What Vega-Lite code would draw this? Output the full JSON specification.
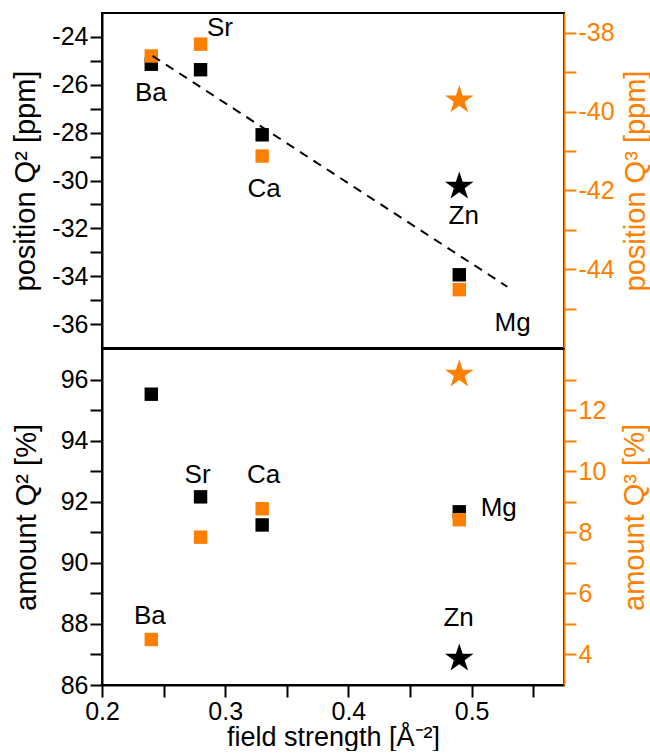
{
  "$schema": "https://vega.github.io/schema/vega-lite/v6.json",
  "padding": {"left": 10, "top": 12, "right": 0, "bottom": 0},
  "spacing": -2,
  "config": {
    "font": "Liberation Sans",
    "view": {"stroke": "black", "strokeWidth": 2},
    "axis": {"labelFontSize": 25, "titleFontSize": 29, "titleFontWeight": "normal", "tickWidth": 2, "tickSize": 12, "domainWidth": 2, "domainColor": "black", "tickColor": "black", "labelColor": "black", "titleColor": "black", "grid": false, "labelPadding": 2, "labelFlush": false},
    "text": {"font": "Liberation Sans", "fontSize": 26, "color": "black"}
  },
  "datasets": {
    "glass": [
      {"el": "Ba", "kind": "alkaline earth", "fs": 0.24, "posQ2": -25.14, "posQ3": -38.59, "amtQ2": 95.52, "amtQ3": 4.49},
      {"el": "Sr", "kind": "alkaline earth", "fs": 0.28, "posQ2": -25.37, "posQ3": -38.29, "amtQ2": 92.16, "amtQ3": 7.84},
      {"el": "Ca", "kind": "alkaline earth", "fs": 0.33, "posQ2": -28.09, "posQ3": -41.13, "amtQ2": 91.24, "amtQ3": 8.77},
      {"el": "Mg", "kind": "alkaline earth", "fs": 0.49, "posQ2": -33.94, "posQ3": -44.52, "amtQ2": 91.67, "amtQ3": 8.41},
      {"el": "Zn", "kind": "transition metal", "fs": 0.49, "posQ2": -30.25, "posQ3": -39.71, "amtQ2": 86.87, "amtQ3": 13.17}
    ],
    "fit": [
      {"fs": 0.241, "posQ2": -24.79},
      {"fs": 0.529, "posQ2": -34.44}
    ],
    "topLabels": [
      {"el": "Ba", "fs": 0.2397, "posQ2": -26.34},
      {"el": "Sr", "fs": 0.2957, "posQ2": -23.62},
      {"el": "Ca", "fs": 0.3316, "posQ2": -30.35},
      {"el": "Zn", "fs": 0.4936, "posQ2": -31.48},
      {"el": "Mg", "fs": 0.5333, "posQ2": -35.95}
    ],
    "bottomLabels": [
      {"el": "Sr", "fs": 0.2776, "amtQ2": 92.89},
      {"el": "Ca", "fs": 0.3311, "amtQ2": 92.89},
      {"el": "Ba", "fs": 0.2389, "amtQ2": 88.27},
      {"el": "Mg", "fs": 0.522, "amtQ2": 91.78},
      {"el": "Zn", "fs": 0.4895, "amtQ2": 88.18}
    ]
  },
  "vconcat": [
    {
      "width": 462,
      "height": 335,
      "resolve": {"scale": {"y": "independent"}},
      "layer": [
        {
          "data": {"name": "glass"},
          "mark": {"type": "point", "filled": true, "opacity": 1},
          "encoding": {
            "x": {"field": "fs", "type": "quantitative", "scale": {"domain": [0.2, 0.575], "nice": false, "zero": false}, "axis": null},
            "y": {"field": "posQ2", "type": "quantitative", "scale": {"domain": [-37, -23], "nice": false, "zero": false},
              "axis": {"orient": "left", "title": "position Q² [ppm]", "values": [-36,-35,-34,-33,-32,-31,-30,-29,-28,-27,-26,-25,-24],
                "labelExpr": "datum.value % 2 == 0 ? '' + datum.value : ''",
                "encode": {"ticks": {"update": {"x2": {"signal": "datum.value % 2 != 0 ? -6 : -12"}}}},
                "titlePadding": 11}},
            "shape": {"field": "kind", "type": "nominal", "scale": {"domain": ["alkaline earth", "transition metal"], "range": ["square", "M0,-1L0.2245,-0.309L0.951,-0.309L0.363,0.118L0.588,0.809L0,0.382L-0.588,0.809L-0.363,0.118L-0.951,-0.309L-0.2245,-0.309Z"]}, "legend": null},
            "size": {"field": "kind", "type": "nominal", "scale": {"domain": ["alkaline earth", "transition metal"], "range": [180, 900]}, "legend": null},
            "color": {"value": "black"}
          }
        },
        {
          "data": {"name": "glass"},
          "mark": {"type": "point", "filled": true, "opacity": 1},
          "encoding": {
            "x": {"field": "fs", "type": "quantitative"},
            "y": {"field": "posQ3", "type": "quantitative", "scale": {"domain": [-46, -37.5], "nice": false, "zero": false},
              "axis": {"orient": "right", "title": "position Q³ [ppm]", "values": [-45,-44,-43,-42,-41,-40,-39,-38],
                "labelExpr": "datum.value % 2 == 0 ? '' + datum.value : ''",
                "encode": {"ticks": {"update": {"x2": {"signal": "datum.value % 2 != 0 ? 6 : 12"}}}},
                "domainColor": "#ff8000", "tickColor": "#ff8000", "labelColor": "#ff8000", "titleColor": "#ff8000",
                "titleAngle": -90, "titleBaseline": "top", "titlePadding": 7}},
            "shape": {"field": "kind", "type": "nominal", "scale": {"domain": ["alkaline earth", "transition metal"], "range": ["square", "M0,-1L0.2245,-0.309L0.951,-0.309L0.363,0.118L0.588,0.809L0,0.382L-0.588,0.809L-0.363,0.118L-0.951,-0.309L-0.2245,-0.309Z"]}, "legend": null},
            "size": {"field": "kind", "type": "nominal", "scale": {"domain": ["alkaline earth", "transition metal"], "range": [180, 900]}, "legend": null},
            "color": {"value": "#ff8000"}
          }
        },
        {
          "data": {"name": "fit"},
          "mark": {"type": "line", "color": "black", "strokeWidth": 2, "strokeDash": [9, 7]},
          "encoding": {
            "x": {"field": "fs", "type": "quantitative"},
            "y": {"field": "posQ2", "type": "quantitative", "scale": {"domain": [-37, -23], "nice": false, "zero": false}, "axis": null}
          }
        },
        {
          "data": {"name": "topLabels"},
          "mark": {"type": "text", "align": "center", "baseline": "middle"},
          "encoding": {
            "x": {"field": "fs", "type": "quantitative"},
            "y": {"field": "posQ2", "type": "quantitative", "scale": {"domain": [-37, -23], "nice": false, "zero": false}, "axis": null},
            "text": {"field": "el"}
          }
        }
      ]
    },
    {
      "width": 462,
      "height": 336,
      "resolve": {"scale": {"y": "independent"}},
      "layer": [
        {
          "data": {"name": "glass"},
          "mark": {"type": "point", "filled": true, "opacity": 1},
          "encoding": {
            "x": {"field": "fs", "type": "quantitative", "scale": {"domain": [0.2, 0.575], "nice": false, "zero": false},
              "axis": {"title": "field strength [Å⁻²]", "values": [0.2, 0.25, 0.3, 0.35, 0.4, 0.45, 0.5, 0.55],
                "labelExpr": "abs(datum.value * 10 - round(datum.value * 10)) > 0.01 ? '' : format(datum.value, '.1f')",
                "encode": {"ticks": {"update": {"y2": {"signal": "abs(datum.value * 10 - round(datum.value * 10)) > 0.01 ? 6 : 12"}}}},
                "titleFontSize": 27, "titlePadding": 0}},
            "y": {"field": "amtQ2", "type": "quantitative", "scale": {"domain": [86, 97], "nice": false, "zero": false},
              "axis": {"orient": "left", "title": "amount Q² [%]", "values": [86,87,88,89,90,91,92,93,94,95,96],
                "labelExpr": "datum.value % 2 == 0 ? '' + datum.value : ''",
                "encode": {"ticks": {"update": {"x2": {"signal": "datum.value % 2 != 0 ? -6 : -12"}}}},
                "titlePadding": 19}},
            "shape": {"field": "kind", "type": "nominal", "scale": {"domain": ["alkaline earth", "transition metal"], "range": ["square", "M0,-1L0.2245,-0.309L0.951,-0.309L0.363,0.118L0.588,0.809L0,0.382L-0.588,0.809L-0.363,0.118L-0.951,-0.309L-0.2245,-0.309Z"]}, "legend": null},
            "size": {"field": "kind", "type": "nominal", "scale": {"domain": ["alkaline earth", "transition metal"], "range": [180, 900]}, "legend": null},
            "color": {"value": "black"}
          }
        },
        {
          "data": {"name": "glass"},
          "mark": {"type": "point", "filled": true, "opacity": 1},
          "encoding": {
            "x": {"field": "fs", "type": "quantitative"},
            "y": {"field": "amtQ3", "type": "quantitative", "scale": {"domain": [3, 14], "nice": false, "zero": false},
              "axis": {"orient": "right", "title": "amount Q³ [%]", "values": [4,5,6,7,8,9,10,11,12,13],
                "labelExpr": "datum.value % 2 == 0 ? '' + datum.value : ''",
                "encode": {"ticks": {"update": {"x2": {"signal": "datum.value % 2 != 0 ? 6 : 12"}}}},
                "domainColor": "#ff8000", "tickColor": "#ff8000", "labelColor": "#ff8000", "titleColor": "#ff8000",
                "titleAngle": -90, "titleBaseline": "top", "titlePadding": 15}},
            "shape": {"field": "kind", "type": "nominal", "scale": {"domain": ["alkaline earth", "transition metal"], "range": ["square", "M0,-1L0.2245,-0.309L0.951,-0.309L0.363,0.118L0.588,0.809L0,0.382L-0.588,0.809L-0.363,0.118L-0.951,-0.309L-0.2245,-0.309Z"]}, "legend": null},
            "size": {"field": "kind", "type": "nominal", "scale": {"domain": ["alkaline earth", "transition metal"], "range": [180, 900]}, "legend": null},
            "color": {"value": "#ff8000"}
          }
        },
        {
          "data": {"name": "bottomLabels"},
          "mark": {"type": "text", "align": "center", "baseline": "middle"},
          "encoding": {
            "x": {"field": "fs", "type": "quantitative"},
            "y": {"field": "amtQ2", "type": "quantitative", "scale": {"domain": [86, 97], "nice": false, "zero": false}, "axis": null},
            "text": {"field": "el"}
          }
        }
      ]
    }
  ]
}
